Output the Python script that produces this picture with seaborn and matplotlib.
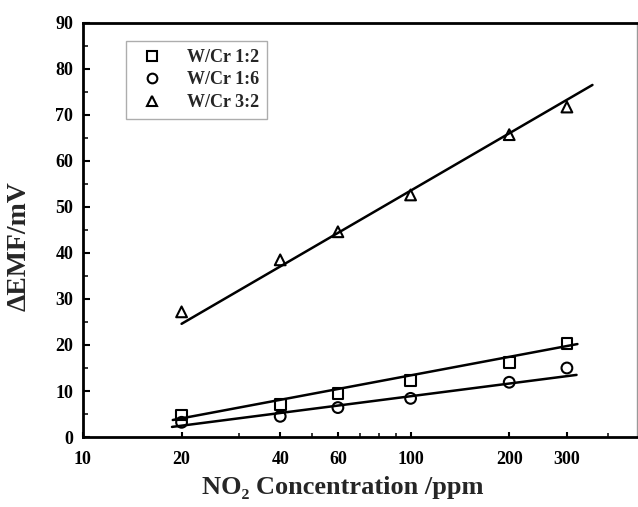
import numpy as np
import pandas as pd
import matplotlib
matplotlib.use("Agg")
import matplotlib.pyplot as plt
import seaborn as sns
from matplotlib.ticker import FixedLocator, NullFormatter

# ---- data ----
conc = [20, 40, 60, 100, 200, 300]
series = ["W/Cr 1:2", "W/Cr 1:6", "W/Cr 3:2"]
emf_12 = [4.8, 7.0, 9.5, 12.3, 16.2, 20.3]
emf_16 = [3.2, 4.5, 6.4, 8.4, 11.9, 15.0]
emf_32 = [27.2, 38.5, 44.6, 52.6, 65.7, 71.7]
# fitted lines as drawn in the figure (x start/end, y start/end)
fit_x_start = [18.8, 18.7, 20]
fit_x_end = [323, 321, 359]
fit_y_start = [3.7, 2.2, 24.6]
fit_y_end = [20.2, 13.5, 76.5]
x_ticks = [10, 20, 40, 60, 100, 200, 300]
x_minor = [30, 50, 70, 80, 90, 400]
y_ticks = [0, 10, 20, 30, 40, 50, 60, 70, 80, 90]
y_minor = [5, 15, 25, 35, 45, 55, 65, 75, 85]

sns.set_theme(style="white")
plt.rcParams["font.family"] = ["Liberation Serif", "DejaVu Serif"]
plt.rcParams["font.weight"] = "bold"

df = pd.DataFrame({
    "conc": conc * 3,
    "emf": emf_12 + emf_16 + emf_32,
    "series": [s for s in series for _ in conc],
})

fit = pd.DataFrame({
    "conc": fit_x_start + fit_x_end,
    "emf": fit_y_start + fit_y_end,
    "series": series + series,
})

fig = plt.figure(figsize=(6.38, 5.07), dpi=100)
ax = fig.add_axes([0.130, 0.138, 0.868, 0.817])

sns.lineplot(data=fit, x="conc", y="emf", units="series", estimator=None,
             color="black", linewidth=1.8, ax=ax, legend=False, sort=True)
sns.scatterplot(data=df, x="conc", y="emf", style="series",
                markers={"W/Cr 1:2": "s", "W/Cr 1:6": "o", "W/Cr 3:2": "^"},
                s=60, facecolor="none", edgecolor="black", linewidth=1.5,
                ax=ax, zorder=3)

ax.set_xscale("log")
ax.set_xlim(10, 490)
ax.set_ylim(0, 90)
ax.xaxis.set_major_locator(FixedLocator(x_ticks))
ax.set_xticklabels([str(t) for t in x_ticks])
ax.xaxis.set_minor_locator(FixedLocator(x_minor))
ax.xaxis.set_minor_formatter(NullFormatter())
ax.set_yticks(y_ticks)
ax.yaxis.set_minor_locator(FixedLocator(y_minor))

ax.tick_params(axis="y", which="major", direction="in", length=5, width=1.5,
               labelsize=13, colors="black", pad=7)
ax.tick_params(axis="y", which="minor", direction="in", length=3.5, width=1.3)
ax.tick_params(axis="x", which="major", direction="in", length=3.5, width=1.5,
               labelsize=13, colors="black", pad=10)
ax.tick_params(axis="x", which="minor", direction="in", length=3, width=1.3)
ax.tick_params(bottom=True, left=True, which="both")
for lab in ax.get_xticklabels() + ax.get_yticklabels():
    lab.set_fontweight("bold")

for side in ["left", "bottom", "top"]:
    ax.spines[side].set_color("black")
    ax.spines[side].set_linewidth(2)
ax.spines["right"].set_color("#999999")
ax.spines["right"].set_linewidth(1)

ax.set_xlabel("NO\u2082 Concentration /ppm", fontsize=19, fontweight="bold")
ax.set_ylabel("\u0394EMF/mV", fontsize=20, fontweight="bold")
ax.xaxis.set_label_coords(0.47, -0.095)
ax.yaxis.set_label_coords(-0.092, 0.46)

leg = ax.legend(loc="upper left", bbox_to_anchor=(0.062, 0.978), frameon=True,
                fancybox=False, edgecolor="#999999", fontsize=13,
                handletextpad=0.9, borderpad=0.45, labelspacing=0.3, markerscale=0.9)
for t in leg.get_texts():
    t.set_fontweight("bold")
leg.get_frame().set_linewidth(1.0)

fig.savefig("out.png", dpi=100)
